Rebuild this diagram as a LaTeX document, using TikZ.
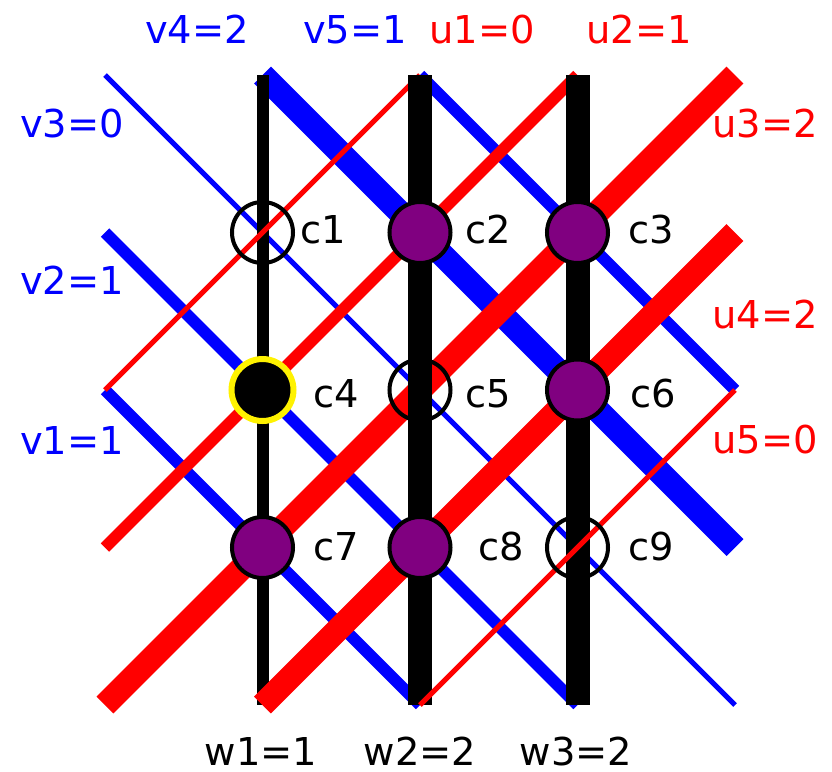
\documentclass[tikz,border=0pt]{standalone}
\usepackage{fontspec}
\setmainfont{DejaVu Sans}
\usepackage{tikz}
\usetikzlibrary{positioning, calc}

\definecolor{cellpurple}{RGB}{128,0,128}

\begin{document}
\begin{tikzpicture} [
    x=0.5pt, y=-0.5pt,
    font=\fontsize{19.2pt}{23pt}\selectfont,
    cell/.style={circle, draw=black, line width=2pt, inner sep=0pt, minimum size=30.5pt},
    full_cell/.style={cell, fill=cellpurple},
    empty_cell/.style={cell},
    chosen_cell/.style={cell, draw=yellow, fill=black, line width=3pt, minimum size=31pt},
    cell_label/.style={anchor=base west, inner sep=0pt},
    var_label/.style={anchor=base, inner sep=0pt},
    v_line/.style={draw, blue},
    u_line/.style={draw, red},
    w_line/.style={draw, black},
    weight0/.style={line width=2.5pt},
    weight1/.style={line width=6pt},
    weight2/.style={line width=12pt}
]
    \useasboundingbox (0,0) rectangle (832,772);

    % Grid ends
    \coordinate (top0) at (105,75);
    \coordinate (top1) at (262.5,75);
    \coordinate (top2) at (420,75);
    \coordinate (top3) at (577.5,75);
    \coordinate (top4) at (735,75);
    \coordinate (bot0) at (105,705);
    \coordinate (bot1) at (262.5,705);
    \coordinate (bot2) at (420,705);
    \coordinate (bot3) at (577.5,705);
    \coordinate (bot4) at (735,705);
    \coordinate (left1) at (105,232.5);
    \coordinate (left2) at (105,390);
    \coordinate (left3) at (105,547.5);
    \coordinate (right1) at (735,232.5);
    \coordinate (right2) at (735,390);
    \coordinate (right3) at (735,547.5);

    % Lines
    \path [v_line, weight1] (left2) -- (bot2);
    \path [v_line, weight1] (left1) -- (bot3);
    \path [v_line, weight0] (top0) -- (bot4);
    \path [v_line, weight2] (top1) -- (right3);
    \path [v_line, weight1] (top2) -- (right2);

    \path [w_line, weight1] (top1) -- (bot1);
    \path [u_line, weight0] (left2) -- (top2);
    \path [u_line, weight1] (left3) -- (top3);
    \path [u_line, weight2] (bot0) -- (top4);
    \path [w_line, weight2] (top2) -- (bot2);
    \path [w_line, weight2] (top3) -- (bot3);
    \path [u_line, weight2] (bot1) -- (right1);
    \path [u_line, weight0] (bot2) -- (right2);

    % Cells
    \node[empty_cell] (c1) at (262.5,232.5) {};
    \node[full_cell] (c2) at (420,232.5) {};
    \node[full_cell] (c3) at (577.5,232.5) {};
    \node[chosen_cell] (c4) at (262.5,390) {};
    \node[empty_cell] (c5) at (420,390) {};
    \node[full_cell] (c6) at (577.5,390) {};
    \node[full_cell] (c7) at (262.5,547.5) {};
    \node[full_cell] (c8) at (420,547.5) {};
    \node[empty_cell] (c9) at (577.5,547.5) {};

    \node[cell_label] (c1_label) at (300,243) {c1};
    \node[cell_label] (c2_label) at (465,243) {c2};
    \node[cell_label] (c3_label) at (628,243) {c3};
    \node[cell_label] (c4_label) at (313,407) {c4};
    \node[cell_label] (c5_label) at (465,407) {c5};
    \node[cell_label] (c6_label) at (630,407) {c6};
    \node[cell_label] (c7_label) at (313,560) {c7};
    \node[cell_label] (c8_label) at (478,560) {c8};
    \node[cell_label] (c9_label) at (628,560) {c9};

    % Labels
    \node[var_label, blue] (v1_label) at (72,454) {v1=1};
    \node[var_label, blue] (v2_label) at (72,294) {v2=1};
    \node[var_label, blue] (v3_label) at (72,137) {v3=0};
    \node[var_label, blue] (v4_label) at (197,43) {v4=2};
    \node[var_label, blue] (v5_label) at (355,43) {v5=1};
    \node[var_label, red] (u1_label) at (482,43) {u1=0};
    \node[var_label, red] (u2_label) at (639,43) {u2=1};
    \node[var_label, red] (u3_label) at (765,137) {u3=2};
    \node[var_label, red] (u4_label) at (765,328) {u4=2};
    \node[var_label, red] (u5_label) at (765,453) {u5=0};
    \node[var_label] (w1_label) at (261,765) {w1=1};
    \node[var_label] (w2_label) at (420,765) {w2=2};
    \node[var_label] (w3_label) at (576,765) {w3=2};

\end{tikzpicture}
\end{document}
